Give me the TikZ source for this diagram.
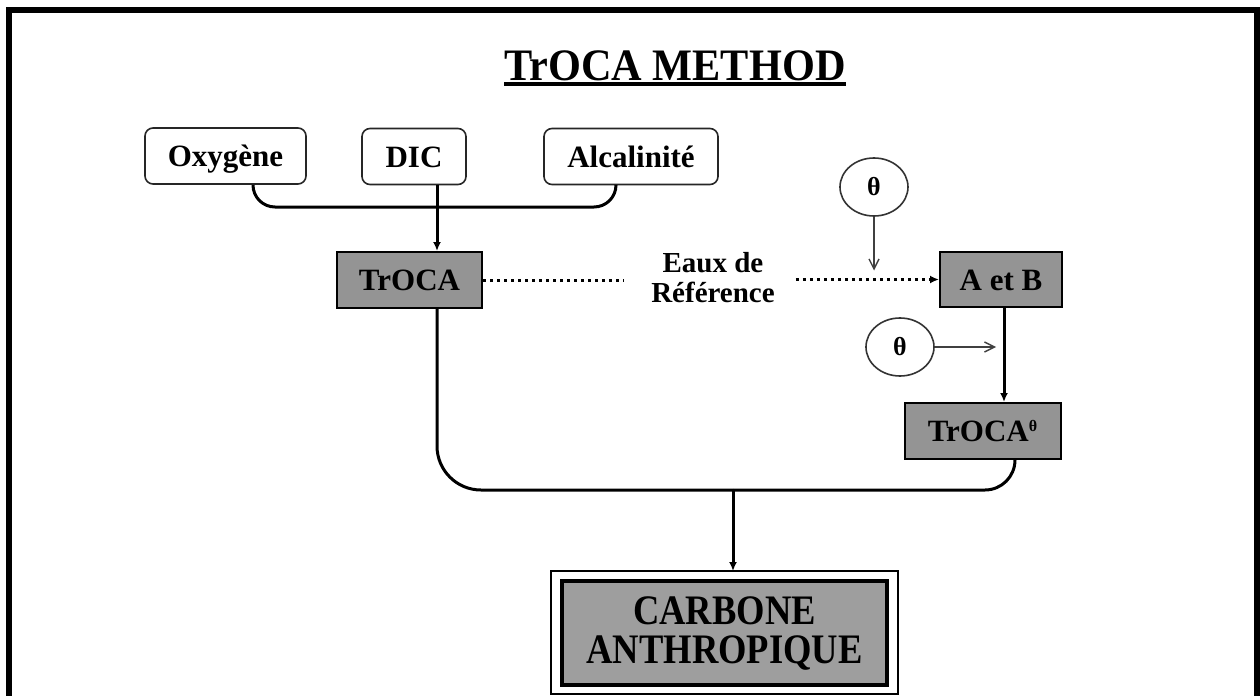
\documentclass[tikz,border=0pt]{standalone}
\usepackage{fontspec}
\setmainfont{Liberation Serif}
\usetikzlibrary{arrows.meta,shapes.geometric}
\begin{document}
\begin{tikzpicture}[x=0.5pt,y=-0.5pt,
  rbox/.style={draw=black!85, line width=0.8pt, rounded corners=4pt, fill=white, minimum height=28pt, inner sep=0pt, text height=10.5pt, text depth=0pt, font=\bfseries\fontsize{15.5}{18}\selectfont},
  gbox/.style={draw=black, line width=1pt, fill=black!42, minimum height=28pt, inner sep=0pt, text height=10.5pt, text depth=0pt, font=\bfseries\fontsize{15.5}{18}\selectfont},
  thetanode/.style={ellipse, draw=black!80, line width=0.8pt, minimum width=34pt, minimum height=29pt, inner sep=0pt, font=\bfseries\fontsize{13}{15}\selectfont},
  conn/.style={line width=1.5pt, draw=black},
  arr/.style={-{Latex[length=4.5pt,width=4pt]}},
  thinarr/.style={line width=0.7pt, draw=black!75, -{Straight Barb[length=5pt,width=5pt]}},
  dotline/.style={line width=1.5pt, dash pattern=on 1.5pt off 2pt},
]
\useasboundingbox (0,0) rectangle (1260,696);
% frame
\draw[line width=3pt] (8.5,696) -- (8.5,9.5) -- (1256.5,9.5) -- (1256.5,696);

% title
\node[anchor=base, inner sep=0pt, font=\bfseries\fontsize{22.5}{26}\selectfont] (title) at (675,80) {\scalebox{0.94}[1]{TrOCA METHOD}};
\draw[line width=1.7pt] ([yshift=-2pt]title.base west) -- ([yshift=-2pt]title.base east);

% helper coordinates
\coordinate (tx) at (437,0);
\coordinate (o1) at (253,0);
\coordinate (a1) at (616,0);
\coordinate (hy) at (0,207);
\coordinate (by) at (0,490);
\coordinate (tr) at (1015,0);
\coordinate (mx) at (733,0);
\coordinate (ax) at (1004,0);

% nodes
\node[rbox, minimum width=80.5pt] (Oxy) at (225.5,156) {Oxygène};
\node[rbox, minimum width=52pt] (DIC) at (414,156.5) {DIC};
\node[rbox, minimum width=87pt] (Alc) at (631,156.5) {Alcalinité};
\node[gbox, minimum width=72.5pt] (TrOCA) at (409.5,280) {TrOCA};
\node[gbox, minimum width=61pt, minimum height=27.5pt] (AB) at (1001,279.5) {A et B};
\node[gbox, minimum width=78pt] (TT) at (983,431) {TrOCA\textsuperscript{\fontsize{8}{8}\selectfont θ}};
\node[thetanode] (T1) at (874,187) {θ};
\node[thetanode] (T2) at (900,347) {θ};
\node[font=\bfseries\fontsize{14.5}{15}\selectfont, align=center] (Ref) at (713,278) {Eaux de\\Référence};
\node[draw=black, line width=2pt, fill=black!38, minimum width=162.5pt, minimum height=52pt, inner sep=0pt, align=center, font=\bfseries\fontsize{21}{19.5}\selectfont] (CARB) at (724.5,633) {\scalebox{0.87}[1]{CARBONE}\\\scalebox{0.87}[1]{ANTHROPIQUE}};
\draw[line width=0.9pt] ([shift={(-9,-8)}]CARB.north west) rectangle ([shift={(9,7)}]CARB.south east);

% top connectors
\draw[conn, rounded corners=11pt] (Oxy.south -| o1) |- (tx |- hy) -| (Alc.south -| a1);
\draw[conn, arr] (DIC.south -| tx) -- (TrOCA.north -| tx);

% dotted reference line
\draw[dotline] (TrOCA.east) -- ([xshift=-10pt]Ref.west |- TrOCA.east);
\draw[dotline, arr] ([xshift=7pt]Ref.east |- AB.west) -- (AB.west);

% theta arrows
\draw[thinarr] (T1.south) -- ([yshift=4.5pt]T1.south |- AB.west);
\draw[thinarr] (T2.east) -- ([xshift=-4pt]T2.east -| ax);

% A et B -> TrOCA theta
\draw[conn, arr] (AB.south -| ax) -- (TT.north -| ax);

% bottom connectors
\draw[conn, rounded corners=22pt] (TrOCA.south -| tx) |- (mx |- by);
\draw[conn, rounded corners=15pt] (mx |- by) -| (TT.south -| tr);
\draw[conn, arr] (mx |- by) -- ([yshift=4pt]CARB.north -| mx);
\end{tikzpicture}
\end{document}
